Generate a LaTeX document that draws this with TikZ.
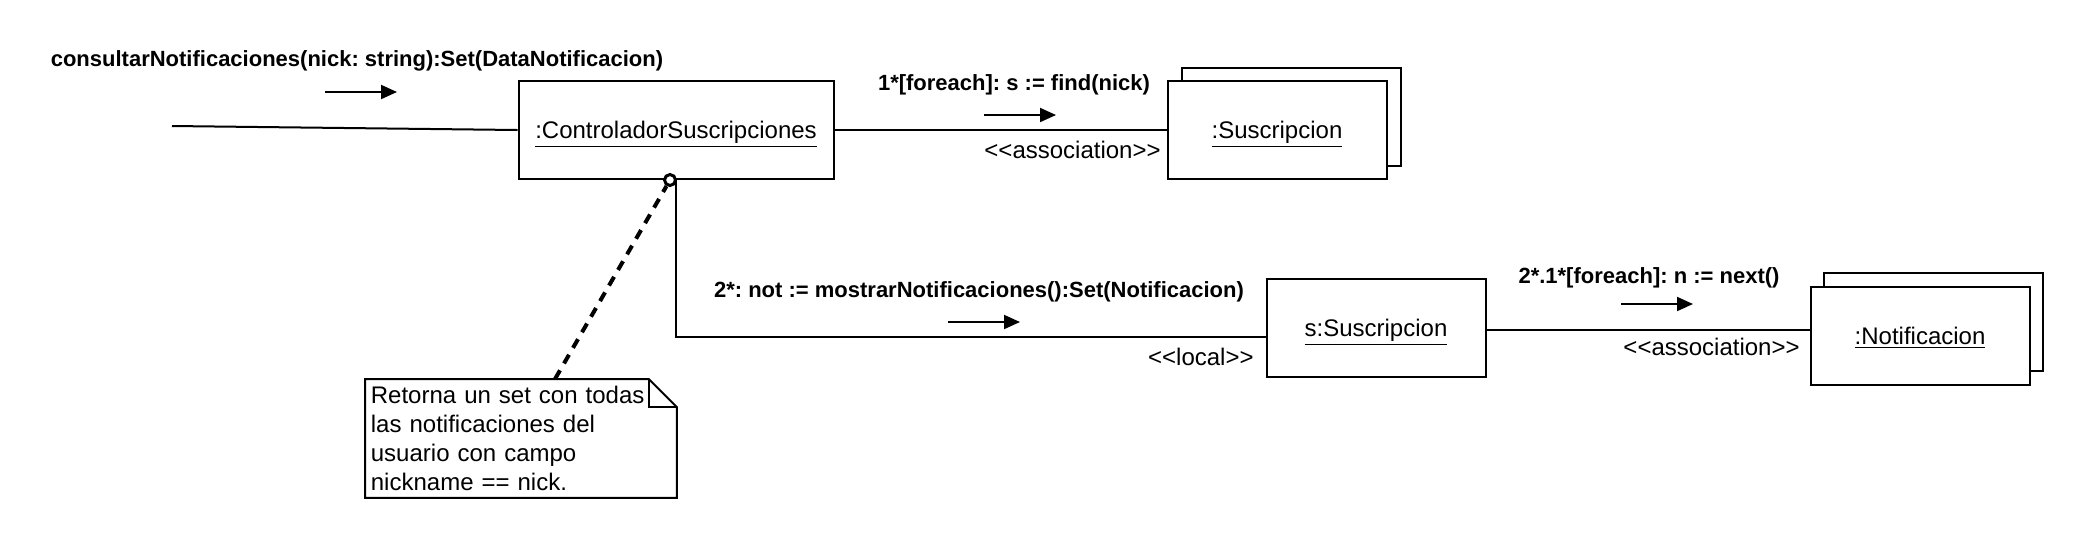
\documentclass[tikz,border=0pt]{standalone}
\usepackage{fontspec}
\setmainfont{Liberation Sans}
\usetikzlibrary{arrows.meta,positioning}

\newcommand\estereo[1]{<\kern0pt<#1>\kern0pt>}
\frenchspacing

\begin{document}
\begin{tikzpicture}[x=0.5pt,y=-0.5pt,
  obj/.style={draw, line width=1pt, fill=white, minimum width=109.5pt, minimum height=49pt, inner sep=0pt, text depth=0pt, font=\fontsize{12}{14}\selectfont},
  msg/.style={line width=1pt, -{Triangle[length=8pt,width=7pt]}},
  lbl/.style={font=\fontsize{11}{13}\selectfont\bfseries, inner sep=0pt},
  stereo/.style={font=\fontsize{12}{14}\selectfont, inner sep=0pt},
  link/.style={line width=1pt}]

\useasboundingbox (0,0) rectangle (2094,548);

% objetos
\node[obj, minimum width=157.5pt] (ctrl) at (676,130) {\underline{:ControladorSuscripciones}};
\node[obj] (suscB) at (1291,117) {};
\node[obj] (susc) at (1277,130) {\underline{:Suscripcion}};
\node[obj] (ssus) at (1376,328) {\underline{s:Suscripcion}};
\node[obj] (notifB) at (1933,322) {};
\node[obj] (notif) at (1920,336) {\underline{:Notificacion}};

% mensaje inicial
\node[lbl] (op) at (357,61) {consultarNotificaciones(nick: string):Set(DataNotificacion)};
\coordinate (ini) at (172,126);
\draw[link] (ini) -- (ctrl.west);
\draw[msg] ([shift={(-32,31)}]op.center) -- ++(72,0);

% enlaces
\draw[link] (ctrl.east) -- (susc.west);
\node[lbl] (m1) at (1014,85) {1*[foreach]: s := find(nick)};
\draw[msg] ([shift={(-30,30)}]m1.center) -- ++(72,0);
\node[stereo, anchor=east] (as1) at (1161,150) {\estereo{association}};

\draw[link] (ctrl.south) |- ([yshift=-4.5pt]ssus.west);
\node[lbl] (m2) at (979,292) {2*: not := mostrarNotificaciones():Set(Notificacion)};
\draw[msg] ([shift={(-31,30)}]m2.center) -- ++(72,0);
\node[stereo, anchor=east] (loc) at (1254,357) {\estereo{local}};

\draw[link] ([yshift=-1pt]ssus.east) -- ([yshift=-1pt]ssus.east -| notif.west);
\node[lbl] (m3) at (1649,278) {2*.1*[foreach]: n := next()};
\draw[msg] ([shift={(-28,26)}]m3.center) -- ++(72,0);
\node[stereo, anchor=east] (as2) at (1800,347) {\estereo{association}};

% nota
\node[anchor=north west, minimum width=155.5pt, minimum height=59pt, inner xsep=2.5pt, inner ysep=0pt,
  text width=150pt, align=left, font=\fontsize{12}{14.5}\selectfont] (nota) at (365,379)
  {Retorna un set con todas\\las notificaciones del\\usuario con campo\\nickname == nick.};
\draw[line width=1pt] (nota.north west) -- ([xshift=-14pt]nota.north east) -- ([yshift=-14pt]nota.north east)
  -- (nota.south east) -- (nota.south west) -- cycle;
\draw[line width=1pt] ([xshift=-14pt]nota.north east) |- ([yshift=-14pt]nota.north east);
\node[draw, circle, line width=1.5pt, fill=white, inner sep=0pt, minimum size=5.5pt] (ancla) at ([xshift=-3pt]ctrl.south) {};
\draw[line width=2pt, dash pattern=on 5pt off 4pt] ([xshift=95pt]nota.north west) -- (ancla);
\end{tikzpicture}
\end{document}
